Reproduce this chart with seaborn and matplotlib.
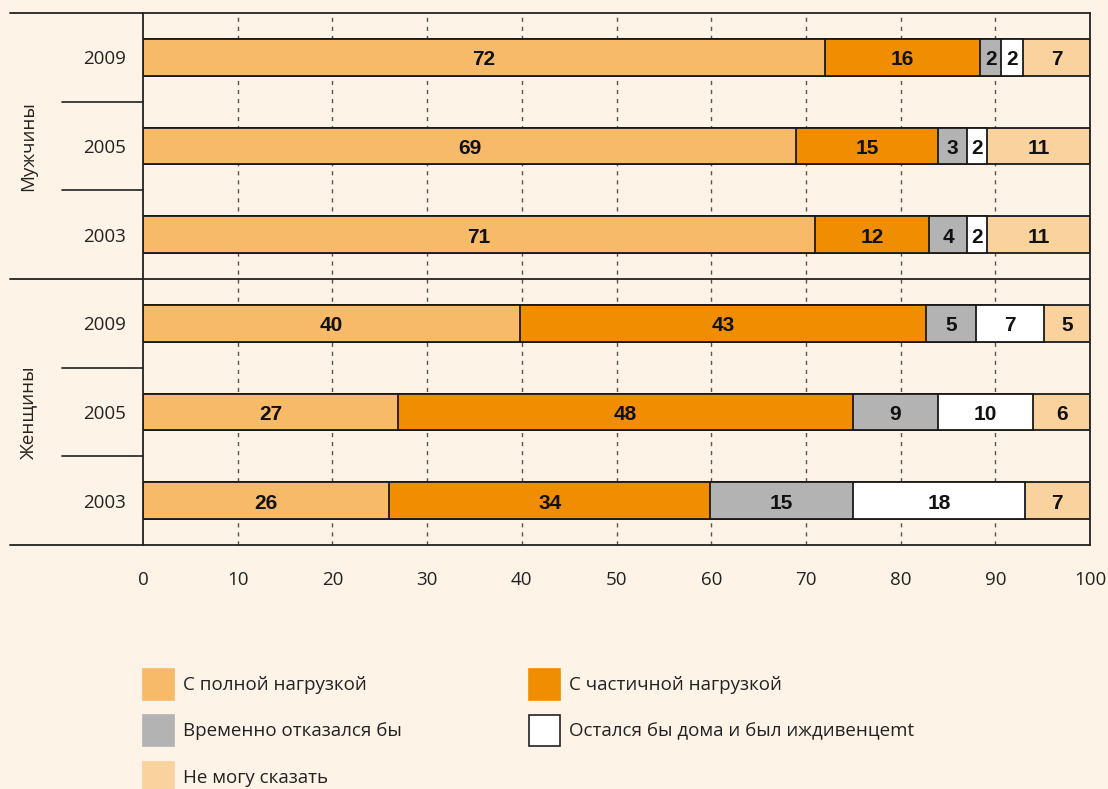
import numpy as np
import pandas as pd
import matplotlib
matplotlib.use("Agg")
import matplotlib.pyplot as plt
import seaborn as sns
from matplotlib.patches import Rectangle
from matplotlib.lines import Line2D

# ---------------- data ----------------
groups = ["Мужчины", "Мужчины", "Мужчины", "Женщины", "Женщины", "Женщины"]
years = ["2009", "2005", "2003", "2009", "2005", "2003"]
series = ["С полной нагрузкой", "С частичной нагрузкой", "Временно отказался бы",
          "Остался бы дома и был иждивенцеmt", "Не могу сказать"]
full_load = [72.0, 69.0, 71.0, 39.85, 26.9, 26.0]
part_load = [16.4, 14.9, 12.0, 42.85, 48.1, 33.9]
temp_refuse = [2.2, 3.1, 4.0, 5.3, 8.9, 15.1]
stay_home = [2.3, 2.1, 2.1, 7.1, 10.1, 18.1]
cant_say = [7.1, 10.9, 10.9, 4.9, 6.0, 6.9]
colors = ["#F6BA68", "#F18D00", "#B3B3B3", "#FFFFFF", "#F9D29D"]

BG = "#FDF3E6"
sns.set_theme(style="white")
plt.rcParams["font.family"] = ["Open Sans", "DejaVu Sans"]

rows = [f"{g} {y}" for g, y in zip(groups, years)]
vals = np.array([full_load, part_load, temp_refuse, stay_home, cant_say])
cums = np.cumsum(vals, axis=0)

fig = plt.figure(figsize=(11.08, 7.89), dpi=100, facecolor=BG)
W, H = 1108, 789
ax = fig.add_axes([143 / W, 1 - 545 / H, (1090 - 143) / W, (545 - 13) / H])
ax.set_facecolor(BG)

# dashed grid
for xv in range(10, 100, 10):
    ax.axvline(xv, color="#555555", lw=1.0, ls=(0, (3, 3.5)), zorder=0)

# stacked bars: draw cumulative totals from widest to narrowest
for i in range(len(series) - 1, -1, -1):
    df = pd.DataFrame({"row": rows, "total": cums[i]})
    sns.barplot(data=df, y="row", x="total", order=rows, orient="h",
                color=colors[i], saturation=1, width=0.417,
                edgecolor="#1a1a1a", linewidth=1.3, ax=ax, zorder=2)

# value labels
for i in range(len(series)):
    for r in range(len(rows)):
        v = vals[i, r]
        ax.text(cums[i, r] - v / 2, r + 0.03, f"{v:.0f}", ha="center", va="center",
                fontsize=15, fontweight="bold",
                fontfamily=["Liberation Sans", "DejaVu Sans"],
                color="#111111", zorder=3)

ax.set_xlim(0, 100)
ax.set_ylim(5.5, -0.5)
ax.set_xlabel("")
ax.set_ylabel("")
ax.set_xticks(range(0, 101, 10))
ax.set_xticklabels([str(t) for t in range(0, 101, 10)], fontsize=13.5, color="#222222")
ax.set_yticks(range(len(rows)))
ax.set_yticklabels(years, fontsize=13.5, color="#222222")
ax.tick_params(axis="x", direction="out", length=8, width=1.2, color="#333333", pad=11)
ax.tick_params(axis="y", length=0, pad=12)
for s in ["left", "right"]:
    ax.spines[s].set_visible(True)
    ax.spines[s].set_color("#222222")
    ax.spines[s].set_linewidth(1.3)
for s in ["top", "bottom"]:
    ax.spines[s].set_visible(False)

# horizontal frame / separator lines (extend into label area)
trans = ax.get_yaxis_transform()
x_long = (10 - 143) / (1090 - 143)
x_short = (62 - 143) / (1090 - 143)
for yb in [-0.5, 2.5, 5.5]:
    ax.add_line(Line2D([x_long, 1], [yb, yb], transform=trans, color="#222222",
                       lw=1.3, clip_on=False))
for yb in [0.5, 1.5, 3.5, 4.5]:
    ax.add_line(Line2D([x_short, 0], [yb, yb], transform=trans, color="#222222",
                       lw=1.2, clip_on=False))

# group labels
ax.text((28 - 143) / (1090 - 143), 1, "Мужчины", transform=trans, rotation=90,
        ha="center", va="center", fontsize=13.5, color="#222222")
ax.text((28 - 143) / (1090 - 143), 4, "Женщины", transform=trans, rotation=90,
        ha="center", va="center", fontsize=13.5, color="#222222")

# legend (row-major, 2 columns)
leg_x = [143, 529]
leg_y = [669, 715, 762]
for k, name in enumerate(series):
    col, row = k % 2, k // 2
    x0, y0 = leg_x[col], leg_y[row]
    edge = "#222222" if colors[k] == "#FFFFFF" else colors[k]
    fig.add_artist(Rectangle((x0 / W, 1 - (y0 + 31) / H), 31 / W, 31 / H,
                             transform=fig.transFigure, facecolor=colors[k],
                             edgecolor=edge, lw=1.2))
    fig.text((x0 + 40) / W, 1 - (y0 + 16) / H, name, ha="left", va="center",
             fontsize=13.5, color="#222222")

fig.savefig("out.png", dpi=100, facecolor=BG)
